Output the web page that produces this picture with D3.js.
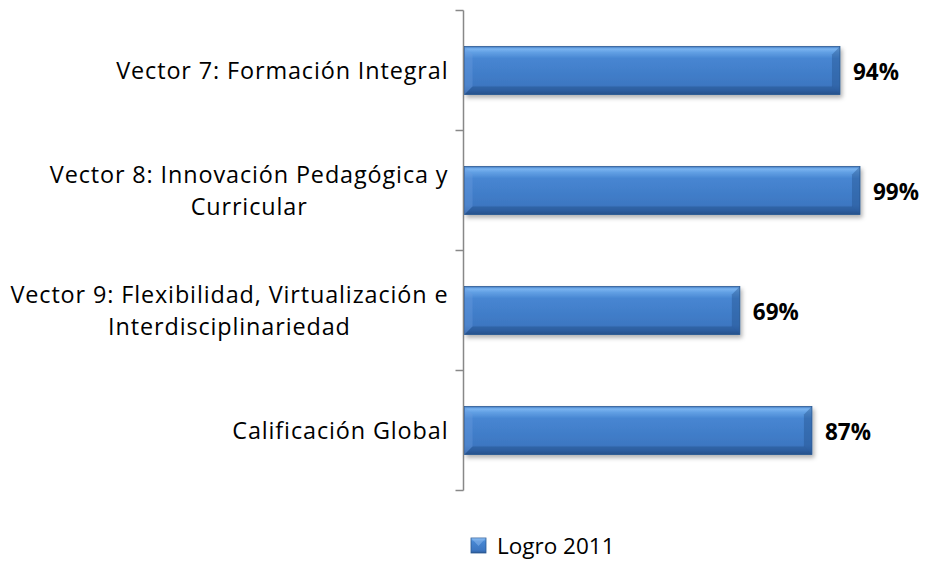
<!DOCTYPE html>
<html><head><meta charset="utf-8">
<script src="https://cdn.jsdelivr.net/npm/d3@7"></script>
<style>body{margin:0;background:#fff}svg{display:block}</style>
</head><body>
<script>
const categories = [
  ["Vector 7: Formación Integral"],
  ["Vector 8: Innovación Pedagógica y", "Curricular"],
  ["Vector 9: Flexibilidad, Virtualización e", "Interdisciplinariedad"],
  ["Calificación Global"]
];
const values = [0.94, 0.99, 0.69, 0.87];
const valueLabels = ["94%", "99%", "69%", "87%"];
const seriesName = "Logro 2011";

const W = 925, H = 562;
const FONT = "'Open Sans', sans-serif";
const svg = d3.select("body").append("svg").attr("width", W).attr("height", H);
const defs = svg.append("defs");
const grad = defs.append("linearGradient").attr("id","bg").attr("x1",0).attr("y1",0).attr("x2",0).attr("y2",1);
[[0,"#3f78c0"],[0.05,"#7ab4f0"],[0.12,"#62a0e4"],[0.25,"#4786d2"],[0.8,"#3d77c2"],[0.92,"#3468ae"],[1,"#2a558f"]]
  .forEach(([o,c])=>grad.append("stop").attr("offset",o).attr("stop-color",c));
const f = defs.append("filter").attr("id","sh").attr("x","-5%").attr("y","-20%").attr("width","115%").attr("height","160%");
f.append("feDropShadow").attr("dx",2).attr("dy",3).attr("stdDeviation",2).attr("flood-color","#000").attr("flood-opacity",0.3);

function measure(str, size, weight) {
  const t = svg.append("text").attr("font-family", FONT).attr("font-size", size).attr("font-weight", weight || "normal").text(str);
  const w = t.node().getComputedTextLength();
  t.remove();
  return w;
}
const catSize = 23.4;
const longest = "Vector 9: Flexibilidad, Virtualización e";
const catSpacing = Math.max(0, (438 - measure(longest, catSize)) / longest.length);
const valSize = 20 * 46 / measure("94%", 20, "bold");
const legSize = 22.5;

const x0 = 463.5;
const x = d3.scaleLinear().domain([0, 1]).range([x0, 864]);
const y = d3.scaleBand().domain(d3.range(categories.length)).range([10.5, 490.5]).paddingInner(0.6).paddingOuter(0.3);
const yb = d3.scaleBand().domain(d3.range(categories.length)).range([10.5, 490.5]);

// axis
const bounds = d3.range(categories.length + 1).map(i => 10.5 + i * yb.step());
const ag = svg.append("g");
ag.append("line").attr("x1", x0).attr("x2", x0).attr("y1", bounds[0]).attr("y2", bounds[bounds.length-1])
  .attr("stroke","#888").attr("stroke-width",1.5);
ag.selectAll("line.t").data(bounds).join("line").attr("class","t")
  .attr("x1", x0 - 8).attr("x2", x0).attr("y1", d => d).attr("y2", d => d)
  .attr("stroke","#888").attr("stroke-width",1.5);

// bars
const bars = svg.append("g");
values.forEach((v, i) => {
  const bx = x(0) + 1, by = y(i), bw = x(v) - x(0) - 1, bh = y.bandwidth();
  const g = bars.append("g");
  g.append("rect").attr("x", bx).attr("y", by).attr("width", bw).attr("height", bh)
    .attr("fill", "url(#bg)").attr("stroke", "#2b5a94").attr("stroke-width", 0.8).attr("filter", "url(#sh)");
  const b = 8;
  g.append("path").attr("d", `M${bx},${by}L${bx+b},${by+b}V${by+bh-b}L${bx},${by+bh}Z`).attr("fill", "#6e9fdf").attr("opacity", 0.35);
  g.append("path").attr("d", `M${bx+bw},${by}V${by+bh}L${bx+bw-b},${by+bh-b}V${by+b}Z`).attr("fill", "#24508a").attr("opacity", 0.4);
  g.append("path").attr("d", `M${bx},${by+bh}H${bx+bw}L${bx+bw-b},${by+bh-b}H${bx+b}Z`).attr("fill", "#1f4a80").attr("opacity", 0.35);
});

// value labels
svg.append("g").selectAll("text").data(values).join("text")
  .attr("x", d => x(d) + 13).attr("y", (d, i) => y(i) + y.bandwidth() / 2 + 1)
  .attr("dy", "0.36em").attr("font-family", FONT).attr("font-weight", "bold")
  .attr("font-size", valSize).attr("fill", "#000").text((d, i) => valueLabels[i]);

// category labels
const lg = svg.append("g");
categories.forEach((lines, i) => {
  const cy = yb(i) + yb.bandwidth() / 2;
  const lh = 32;
  const ts = lines.map((ln, k) => lg.append("text").attr("font-family", FONT).attr("font-size", catSize)
    .attr("letter-spacing", catSpacing).attr("fill", "#000")
    .attr("y", cy + (k - (lines.length - 1) / 2) * lh).attr("dy", "0.36em").text(ln));
  const widths = ts.map(t => t.node().getComputedTextLength());
  const cx = 448 + catSpacing / 2 - d3.max(widths) / 2;
  ts.forEach(t => t.attr("text-anchor", "middle").attr("x", cx));
});

// legend
const leg = svg.append("g");
leg.append("rect").attr("x", 471).attr("y", 538).attr("width", 15).attr("height", 15)
  .attr("fill", "url(#bg)").attr("stroke", "#2b5a94").attr("stroke-width", 0.8);
leg.append("path").attr("d", "M471,538H486L478.5,546Z").attr("fill", "#8fbcf0").attr("opacity", 0.5);
leg.append("text").attr("x", 497).attr("y", 546).attr("dy", "0.36em").attr("font-family", FONT)
  .attr("font-size", legSize).attr("fill", "#000").text(seriesName);
</script>
</body></html>
